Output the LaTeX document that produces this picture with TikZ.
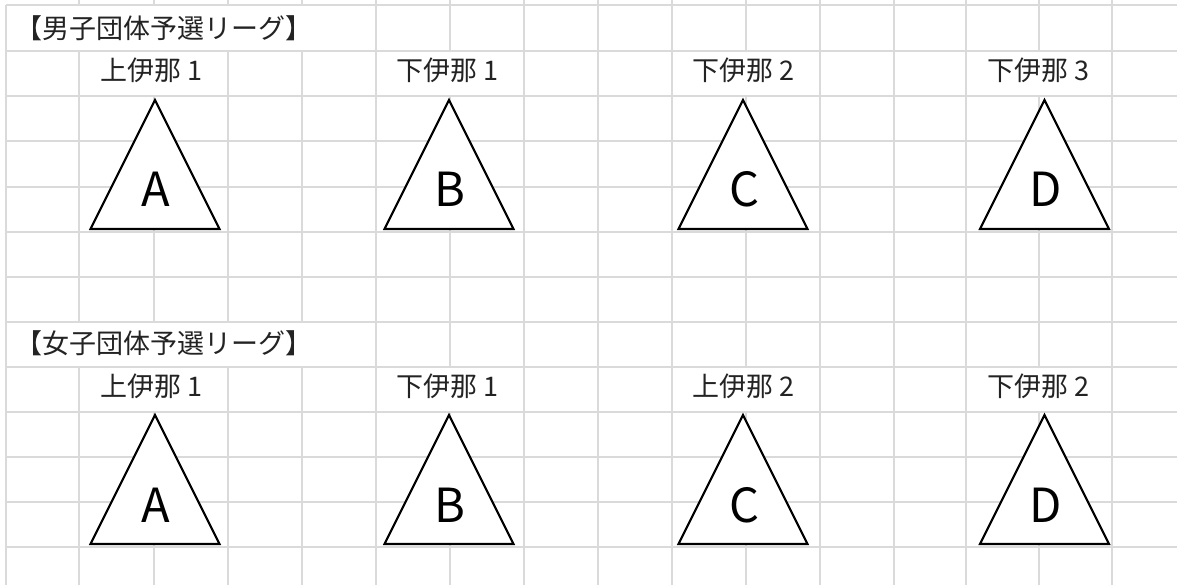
\documentclass[tikz,border=0pt]{standalone}
\usepackage{fontspec}
\newfontfamily\jp{Noto Sans CJK JP}
\definecolor{gridgray}{RGB}{218,218,218}
\definecolor{txt}{RGB}{35,35,35}
\begin{document}
\begin{tikzpicture}[x=1pt,y=-1pt,
  gridline/.style={draw=gridgray,line width=1.3pt},
  tri/.style={draw=black,fill=white,line width=2.1pt,line join=miter},
  title/.style={font=\jp\fontsize{27}{29}\selectfont,text=txt,inner sep=0pt,anchor=base west},
  label/.style={font=\jp\fontsize{27}{29}\selectfont,text=txt,inner sep=0pt,anchor=base},
  letter/.style={font=\jp\fontsize{47}{49}\selectfont,text=black,inner sep=0pt,anchor=base}]
\useasboundingbox (0,0) rectangle (1177,585);
\fill[white] (0,0) rectangle (1177,585);
% grid
\foreach \x in {79,154,228,302,376,450,524,598,672,746,820,894,966,1039,1112}
  \draw[gridline] (\x,0) -- (\x,585);
\draw[gridline] (6,5) -- (6,585);
\foreach \y in {5,51,96,141,187,232,277,322,367,412,457,502,547}
  \draw[gridline] (6,\y) -- (1177,\y);
% merged cells
\foreach \a/\b/\c/\d in {6/5/376/51, 79/51/228/96, 376/51/524/96, 672/51/820/96, 966/51/1112/96,
  6/322/376/367, 79/367/228/412, 376/367/524/412, 672/367/820/412, 966/367/1112/412}
  \fill[white] (\a+1,\b+1) rectangle (\c-1,\d-1);
% titles
\node[title] (titleM) at (15,38.5) {【男子団体予選リーグ】};
\node[title] (titleF) at (15,353.5) {【女子団体予選リーグ】};
% labels
\node[label] (labM1) at (151,81) {上伊那\kern6pt 1};
\node[label] (labM2) at (447,81) {下伊那\kern6pt 1};
\node[label] (labM3) at (743,81) {下伊那\kern6pt 2};
\node[label] (labM4) at (1038,81) {下伊那\kern6pt 3};
\node[label] (labF1) at (151,396) {上伊那\kern6pt 1};
\node[label] (labF2) at (447,396) {下伊那\kern6pt 1};
\node[label] (labF3) at (743,396) {上伊那\kern6pt 2};
\node[label] (labF4) at (1038,396) {下伊那\kern6pt 2};
% triangles and letters
\foreach \cx/\n in {155/A,449/B,743/C,1044.5/D}{
  \draw[tri] (\cx,100) coordinate (topM\n) -- (\cx+64.5,229) -- (\cx-64.5,229) -- cycle;
  \node[letter] (letM\n) at (\cx+1,207) {\n};
  \draw[tri] (\cx,415) coordinate (topF\n) -- (\cx+64.5,544) -- (\cx-64.5,544) -- cycle;
  \node[letter] (letF\n) at (\cx+1,522) {\n};
}
\end{tikzpicture}
\end{document}
